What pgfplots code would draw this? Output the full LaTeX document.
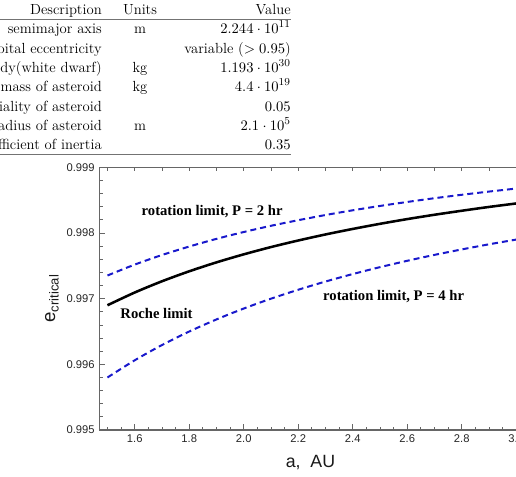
\documentclass[border=0pt]{standalone}
\usepackage{pgfplots}
\pgfplotsset{compat=1.18}
\usepackage{fontspec}
\newfontfamily\arial{Liberation Sans}
\newfontfamily\timesr{Liberation Serif}
\definecolor{curveblue}{rgb}{0.1,0.1,0.8}
\definecolor{framegray}{gray}{0.4}

\begin{document}
\begin{tikzpicture}
\useasboundingbox (0,0) rectangle (387pt,-357pt);
\clip (0,0) rectangle (387pt,-357pt);
% ---------------- table ----------------
\tikzset{tab/.style={inner sep=0pt, font=\fontsize{11}{13}\selectfont}}
\draw[line width=1.1pt, black!55] (-10pt,-14.5pt) -- (218.25pt,-14.5pt);
\draw[line width=1.1pt, black!55] (-10pt,-115.7pt) -- (218.25pt,-115.7pt);
\node[tab, anchor=base east] at (76.5pt,-10.5pt) {Description};
\node[tab, anchor=base] at (105pt,-10.5pt) {Units};
\node[tab, anchor=base east] at (218.25pt,-10.5pt) {Value};
% rows
\node[tab, anchor=base east] at (76.5pt,-24.75pt) {Orb. semimajor axis};
\node[tab, anchor=base] at (105pt,-24.75pt) {m};
\node[tab, anchor=base east] at (218.25pt,-24.75pt) {$2.244\cdot10^{11}$};
\node[tab, anchor=base east] at (76.5pt,-39.75pt) {Orbital eccentricity};
\node[tab, anchor=base east] at (218.25pt,-39.75pt) {variable ($>0.95$)};
\node[tab, anchor=base east] at (76.5pt,-54pt) {Mass of central body(white dwarf)};
\node[tab, anchor=base] at (105pt,-54pt) {kg};
\node[tab, anchor=base east] at (218.25pt,-54pt) {$1.193\cdot10^{30}$};
\node[tab, anchor=base east] at (76.5pt,-68.25pt) {Total mass of asteroid};
\node[tab, anchor=base] at (105pt,-68.25pt) {kg};
\node[tab, anchor=base east] at (218.25pt,-68.25pt) {$4.4\cdot10^{19}$};
\node[tab, anchor=base east] at (76.5pt,-83.25pt) {Triaxiality of asteroid};
\node[tab, anchor=base east] at (218.25pt,-83.25pt) {$0.05$};
\node[tab, anchor=base east] at (76.5pt,-97.5pt) {Mean radius of asteroid};
\node[tab, anchor=base] at (105pt,-97.5pt) {m};
\node[tab, anchor=base east] at (218.25pt,-97.5pt) {$2.1\cdot10^{5}$};
\node[tab, anchor=base east] at (76.5pt,-111.75pt) {Coefficient of inertia};
\node[tab, anchor=base east] at (218.25pt,-111.75pt) {$0.35$};
% ---------------- plot ----------------
\begin{axis}[
  at={(74.475pt,-322.5pt)}, anchor=south west,
  scale only axis, width=316.8pt, height=197pt,
  xmin=1.47, xmax=3.02, ymin=0.995, ymax=0.999,
  xtick={1.6,1.8,2.0,2.2,2.4,2.6,2.8,3.0},
  minor xtick={1.5,1.55,1.65,1.7,1.75,1.85,1.9,1.95,2.05,2.1,2.15,2.25,2.3,2.35,2.45,2.5,2.55,2.65,2.7,2.75,2.85,2.9,2.95},
  ytick={0.995,0.996,0.997,0.998,0.999},
  minor y tick num=4,
  xtick pos=bottom, ytick pos=left,
  tick align=inside,
  major tick length=4.5pt, minor tick length=2.5pt,
  axis line style={framegray, line width=0.8pt},
  tick style={framegray, line width=0.6pt},
  tick label style={font=\arial\fontsize{8.4}{10}\selectfont, text=black!85},
  /pgf/number format/assume math mode=true,
  scaled y ticks=false, scaled x ticks=false,
  xticklabel style={/pgf/number format/.cd, fixed, fixed zerofill, precision=1},
  yticklabel style={/pgf/number format/.cd, fixed, fixed zerofill, precision=3},
  xlabel={a,\ \ AU},
  xlabel style={at={(axis description cs:0.5,0)}, anchor=base, yshift=-27.75pt, font=\arial\fontsize{13.3}{15}\selectfont, text=black!90},
  ylabel={e\raisebox{-0.35ex}{\fontsize{9.8}{11}\selectfont critical}},
  ylabel style={at={(axis description cs:-0.112,0.5)}, anchor=center, font=\arial\fontsize{14}{16}\selectfont, text=black!90},
  clip=false,
]
% Roche limit
\addplot[black, line width=1.9pt, smooth] coordinates {
(1.5,0.99690) (1.6,0.997094) (1.7,0.997265) (1.8,0.997417) (1.9,0.997553)
(2.0,0.997675) (2.1,0.997786) (2.2,0.997886) (2.3,0.997978) (2.4,0.998062)
(2.5,0.998140) (2.6,0.998212) (2.7,0.998278) (2.8,0.998339) (2.9,0.998397)
(3.0,0.998450)};
% rotation limit P = 2 hr
\addplot[curveblue, line width=1.5pt, dash pattern=on 4.5pt off 3pt, smooth] coordinates {
(1.5,0.997353) (1.6,0.997519) (1.7,0.997665) (1.8,0.997794) (1.9,0.997911)
(2.0,0.998015) (2.1,0.998110) (2.2,0.998195) (2.3,0.998274) (2.4,0.998346)
(2.5,0.998412) (2.6,0.998473) (2.7,0.998530) (2.8,0.998582) (2.9,0.998631)
(3.0,0.998677)};
% rotation limit P = 4 hr
\addplot[curveblue, line width=1.5pt, dash pattern=on 4.5pt off 3pt, smooth] coordinates {
(1.5,0.995800) (1.6,0.996062) (1.7,0.996294) (1.8,0.996500) (1.9,0.996684)
(2.0,0.996850) (2.1,0.997000) (2.2,0.997136) (2.3,0.997261) (2.4,0.997375)
(2.5,0.997480) (2.6,0.997577) (2.7,0.997667) (2.8,0.997750) (2.9,0.997828)
(3.0,0.997900)};
\node[font=\timesr\bfseries\fontsize{11}{13}\selectfont] at (axis cs:1.884,0.998333) {rotation limit, P = 2 hr};
\node[font=\timesr\bfseries\fontsize{11}{13}\selectfont] at (axis cs:1.68,0.99678) {Roche limit};
\node[font=\timesr\bfseries\fontsize{11}{13}\selectfont] at (axis cs:2.55,0.99704) {rotation limit, P = 4 hr};
\end{axis}
% top ticks every 0.1
\begin{axis}[
  at={(74.475pt,-322.5pt)}, anchor=south west,
  scale only axis, width=316.8pt, height=197pt,
  xmin=1.47, xmax=3.02, ymin=0.995, ymax=0.999,
  xtick={1.5,1.6,1.7,1.8,1.9,2.0,2.1,2.2,2.3,2.4,2.5,2.6,2.7,2.8,2.9,3.0},
  xticklabels={}, xtick pos=top, ytick=\empty,
  tick align=inside, major tick length=3pt,
  axis line style={draw=none},
  tick style={framegray, line width=0.6pt},
]
\addplot[draw=none] coordinates {(2,0.997)};
\end{axis}
\end{tikzpicture}
\end{document}
